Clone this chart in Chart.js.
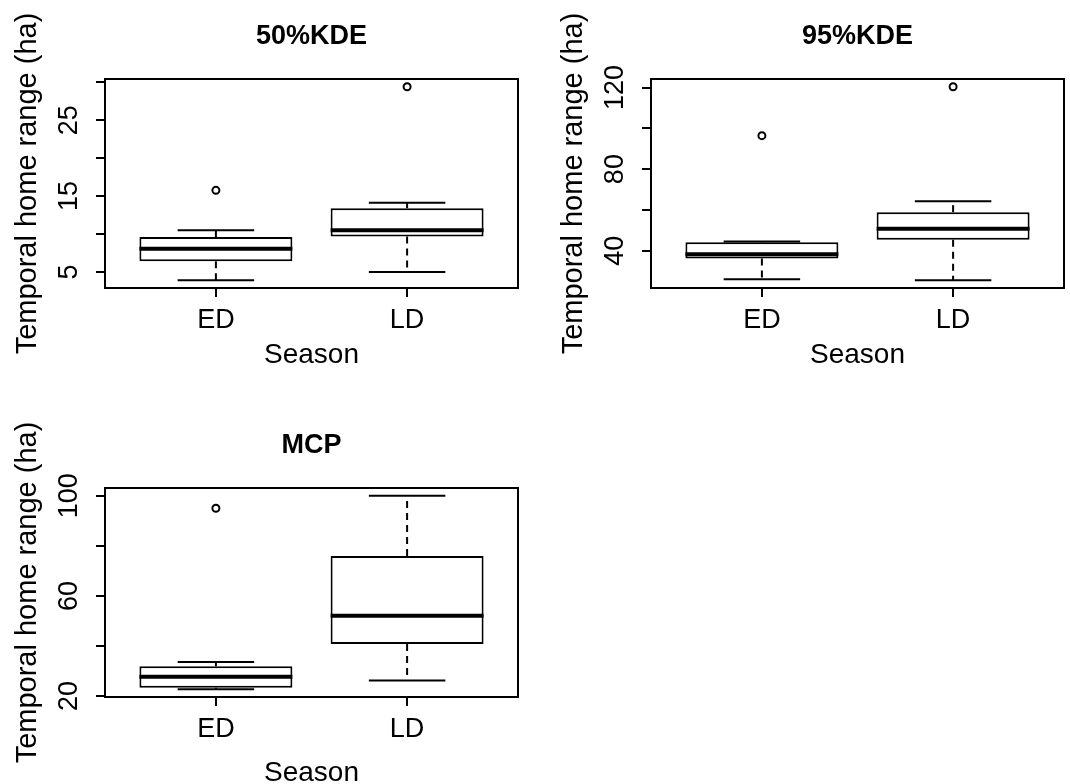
<!DOCTYPE html>
<html>
<head>
<meta charset="utf-8">
<script src="https://cdn.jsdelivr.net/npm/chart.js@4.4.1/dist/chart.umd.min.js"></script>
<style>
    html, body { margin: 0; padding: 0; background: #fff; overflow: hidden; }
    .panel { position: absolute; }
</style>
</head>
<body>
<div class="panel" style="left:0;top:0;width:535px;height:392px"><canvas id="kde50Chart"></canvas></div>
<div class="panel" style="left:546px;top:0;width:524px;height:392px"><canvas id="kde95Chart"></canvas></div>
<div class="panel" style="left:0;top:409px;width:535px;height:392px"><canvas id="mcpChart"></canvas></div>
<script>
const seasons = ['ED', 'LD'];

// 50% KDE
const kde50Low = [3.9, 5.0];
const kde50Q1 = [6.4, 9.65];
const kde50Median = [8.05, 10.5];
const kde50Q3 = [9.6, 13.4];
const kde50High = [10.5, 14.1];
const kde50Outliers = [[15.75], [29.4]];
const kde50Ticks = [5, 10, 15, 20, 25, 30];
const kde50TickLabels = [5, 15, 25];

// 95% KDE
const kde95Low = [26.0, 25.5];
const kde95Q1 = [36.2, 45.4];
const kde95Median = [38.2, 50.8];
const kde95Q3 = [44.1, 58.9];
const kde95High = [44.5, 64.3];
const kde95Outliers = [[96.4], [120.4]];
const kde95Ticks = [40, 60, 80, 100, 120];
const kde95TickLabels = [40, 80, 120];

// MCP
const mcpLow = [22.7, 26.2];
const mcpQ1 = [23.3, 40.8];
const mcpMedian = [27.65, 52.1];
const mcpQ3 = [31.9, 75.9];
const mcpHigh = [33.6, 100];
const mcpOutliers = [[95], []];
const mcpTicks = [20, 40, 60, 80, 100];
const mcpTickLabels = [20, 60, 100];

const FONT = '"Liberation Sans", Arial, sans-serif';
Chart.defaults.font.family = FONT;
Chart.defaults.color = '#000';

// box around the plot region, like R
const framePlugin = {
    id: 'frame',
    afterDatasetsDraw(chart) {
        const { ctx, chartArea: a } = chart;
        ctx.save();
        ctx.strokeStyle = '#000';
        ctx.lineWidth = 2;
        ctx.strokeRect(a.left, a.top, a.right - a.left, a.bottom - a.top);
        ctx.restore();
    }
};

// y tick labels rotated parallel to the axis
const yLabelPlugin = {
    id: 'yLabels',
    afterDraw(chart, args, opts) {
        const { ctx, chartArea } = chart;
        const y = chart.scales.y;
        ctx.save();
        ctx.font = '27px ' + FONT;
        ctx.fillStyle = '#000';
        ctx.textAlign = 'center';
        ctx.textBaseline = 'middle';
        opts.labels.forEach(v => {
            ctx.save();
            ctx.translate(chartArea.left - 35, y.getPixelForValue(v));
            ctx.rotate(-Math.PI / 2);
            ctx.fillText(String(v), 0, 0);
            ctx.restore();
        });
        ctx.restore();
    }
};

function seg(x0, y0, x1, y1, width, dash) {
    return {
        type: 'line',
        data: [{ x: x0, y: y0 }, { x: x1, y: y1 }],
        borderColor: '#000',
        borderWidth: width,
        borderDash: dash || [],
        pointRadius: 0,
        fill: false,
        order: 0
    };
}

function rRange(values) {
    const lo = Math.min(...values), hi = Math.max(...values);
    const pad = (hi - lo) * 0.04;
    return [lo - pad, hi + pad];
}

function boxplot(id, title, s, xTitlePad) {
    const ctx = document.getElementById(id).getContext('2d');
    const datasets = [{
        type: 'bar',
        data: seasons.map((_, i) => ({ x: i + 1, y: [s.q1[i], s.q3[i]] })),
        backgroundColor: '#fff',
        borderColor: '#000',
        borderWidth: 2,
        borderSkipped: false,
        barPercentage: 0.8,
        categoryPercentage: 1,
        order: 1
    }];
    seasons.forEach((_, i) => {
        const c = i + 1;
        datasets.push(seg(c, s.q3[i], c, s.high[i], 2, [7, 5]));
        datasets.push(seg(c, s.q1[i], c, s.low[i], 2, [7, 5]));
        datasets.push(seg(c - 0.2, s.high[i], c + 0.2, s.high[i], 2));
        datasets.push(seg(c - 0.2, s.low[i], c + 0.2, s.low[i], 2));
        datasets.push(seg(c - 0.4, s.median[i], c + 0.4, s.median[i], 4));
    });
    datasets.push({
        type: 'scatter',
        data: s.outliers.flatMap((vals, i) => vals.map(v => ({ x: i + 1, y: v }))),
        pointRadius: 3.5,
        borderWidth: 2,
        borderColor: '#000',
        backgroundColor: '#fff',
        order: 0
    });

    const all = s.low.concat(s.high, s.outliers.flat());
    const [yMin, yMax] = rRange(all);
    const n = seasons.length;

    new Chart(ctx, {
        type: 'bar',
        data: { datasets },
        plugins: [framePlugin, yLabelPlugin],
        options: {
            responsive: true,
            maintainAspectRatio: false,
            animation: false,
            layout: { padding: { left: 0, right: s.rightPad, top: 0, bottom: 0 } },
            plugins: {
                legend: { display: false },
                tooltip: { enabled: false },
                title: {
                    display: true,
                    text: title,
                    fullSize: false,
                    color: '#000',
                    font: { size: 27, weight: 'bold' },
                    padding: { top: 20, bottom: 26.6 }
                },
                yLabels: { labels: s.tickLabels }
            },
            scales: {
                x: {
                    type: 'linear',
                    offset: false,
                    min: 0.5 - 0.04 * n,
                    max: n + 0.5 + 0.04 * n,
                    afterBuildTicks: sc => { sc.ticks = seasons.map((_, i) => ({ value: i + 1 })); },
                    afterFit: sc => { sc.height = 104; },
                    ticks: {
                        callback: v => seasons[v - 1],
                        font: { size: 27 },
                        color: '#000',
                        padding: 7,
                        maxRotation: 0,
                        autoSkip: false
                    },
                    grid: { offset: false, drawOnChartArea: false, tickLength: 9, color: '#000', lineWidth: 2 },
                    border: { color: '#000', width: 2 },
                    title: { display: true, text: 'Season', color: '#000', font: { size: 28 }, padding: xTitlePad }
                },
                y: {
                    type: 'linear',
                    min: yMin,
                    max: yMax,
                    afterBuildTicks: sc => { sc.ticks = s.ticks.map(v => ({ value: v })); },
                    afterFit: sc => { sc.width = 105; },
                    ticks: { display: false },
                    grid: { drawOnChartArea: false, tickLength: 9, color: '#000', lineWidth: 2 },
                    border: { color: '#000', width: 2 },
                    title: {
                        display: true,
                        text: 'Temporal home range (ha)',
                        color: '#000',
                        font: { size: 29 },
                        padding: { top: 11, bottom: 0 }
                    }
                }
            }
        }
    });
}

document.addEventListener('DOMContentLoaded', () => {
    boxplot('kde50Chart', '50%KDE', {
        low: kde50Low, q1: kde50Q1, median: kde50Median, q3: kde50Q3, high: kde50High,
        outliers: kde50Outliers, ticks: kde50Ticks, tickLabels: kde50TickLabels, rightPad: 17
    }, { top: 0, bottom: 20 });

    boxplot('kde95Chart', '95%KDE', {
        low: kde95Low, q1: kde95Q1, median: kde95Median, q3: kde95Q3, high: kde95High,
        outliers: kde95Outliers, ticks: kde95Ticks, tickLabels: kde95TickLabels, rightPad: 5
    }, { top: 0, bottom: 20 });

    boxplot('mcpChart', 'MCP', {
        low: mcpLow, q1: mcpQ1, median: mcpMedian, q3: mcpQ3, high: mcpHigh,
        outliers: mcpOutliers, ticks: mcpTicks, tickLabels: mcpTickLabels, rightPad: 17
    }, { top: 0, bottom: 11 });
});
</script>
</body>
</html>
